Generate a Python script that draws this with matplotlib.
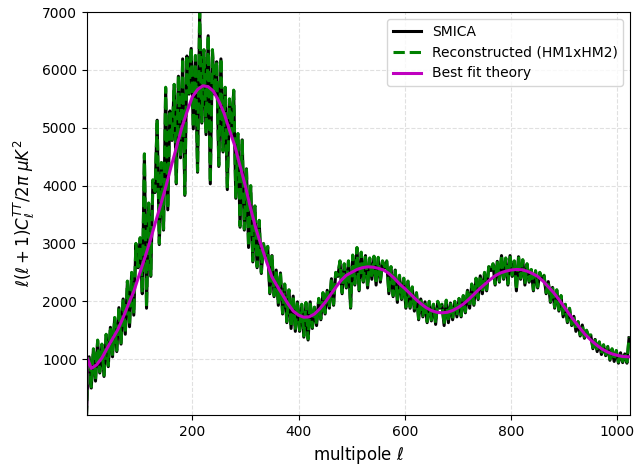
import numpy as np
import matplotlib
matplotlib.use("Agg")
import matplotlib.pyplot as plt

# multipoles of the measured spectra (ell=1 entry is the zero padding)
ell_data = [1] + list(range(2, 1023, 4))

# Reconstructed (HM1xHM2) spectrum, D_ell in uK^2
dl_recon = [0,
    300, 1050, 520, 1180, 640, 1330, 780, 1260, 720, 1430,
    890, 1560, 1060, 1720, 1150, 1900, 1280, 2050, 1450, 2350,
    1580, 2500, 1780, 3000, 2600, 3100, 2150, 4550, 1900, 3700,
    2450, 4100, 3900, 5150, 3000, 4400, 3250, 5700, 3600, 5300,
    4800, 5750, 4050, 5900, 4500, 6200, 3850, 6250, 5600, 6380,
    5000, 6250, 4250, 7000, 5100, 6350, 4900, 6600, 4050, 6350,
    5600, 6150, 4350, 6200, 4600, 5700, 3950, 5500, 4900, 5650,
    3800, 4900, 3300, 4800, 3250, 4300, 2950, 4000, 2700, 3650,
    2600, 3400, 2500, 3000, 2800, 2950, 2150, 2800, 2100, 2550,
    1950, 2500, 1800, 2300, 1650, 2200, 1550, 2100, 1500, 2000,
    1500, 1950, 1400, 1980, 1350, 2000, 1550, 1900, 1600, 2050,
    1700, 2150, 1800, 2200, 1900, 2400, 1950, 2500, 2450, 2700,
    2150, 2650, 2250, 2700, 1900, 2800, 2300, 2930, 2200, 2850,
    2350, 2800, 2250, 2750, 2400, 2780, 2300, 2760, 2350, 2700,
    2600, 2700, 2150, 2600, 2100, 2550, 2000, 2450, 2050, 2400,
    1900, 2350, 1900, 2250, 1850, 2150, 1700, 2050, 1750, 2000,
    1650, 2000, 1680, 1950, 1620, 2000, 1900, 1950, 1600, 2020,
    1650, 1980, 1700, 2000, 1750, 2050, 1750, 2100, 1820, 2200,
    1900, 2300, 1950, 2400, 2050, 2450, 2150, 2500, 2200, 2600,
    2550, 2650, 2300, 2700, 2350, 2800, 2400, 2750, 2300, 2800,
    2450, 2700, 2200, 2780, 2400, 2720, 2300, 2650, 2350, 2550,
    2200, 2530, 2250, 2500, 2400, 2450, 2150, 2350, 2000, 2250,
    1900, 2200, 1850, 2100, 1750, 1950, 1650, 1880, 1600, 1750,
    1500, 1650, 1420, 1600, 1380, 1500, 1400, 1420, 1200, 1350,
    1150, 1300, 1100, 1250, 1080, 1220, 1000, 1180, 980, 1150,
    950, 1120, 960, 1100, 950, 1380]

# SMICA spectrum, nearly on top of the reconstruction
dl_smica = [0,
    290, 1040, 500, 1170, 620, 1320, 760, 1250, 700, 1420,
    870, 1550, 1040, 1710, 1130, 1890, 1260, 2040, 1430, 2340,
    1560, 2490, 1760, 2990, 2580, 3090, 2130, 4530, 1880, 3690,
    2430, 4090, 3880, 5130, 2980, 4390, 3230, 5680, 3580, 5290,
    4780, 5740, 4030, 5890, 4480, 6190, 3830, 6240, 5580, 6370,
    4980, 6240, 4230, 6980, 5080, 6340, 4880, 6590, 4030, 6340,
    5580, 6140, 4330, 6190, 4580, 5690, 3930, 5490, 4880, 5640,
    3780, 4890, 3280, 4790, 3230, 4290, 2930, 3990, 2680, 3640,
    2580, 3390, 2480, 2990, 2780, 2940, 2130, 2790, 2080, 2540,
    1930, 2490, 1780, 2290, 1630, 2190, 1530, 2090, 1480, 1990,
    1480, 1940, 1380, 1970, 1330, 1990, 1530, 1890, 1580, 2040,
    1680, 2140, 1780, 2190, 1880, 2390, 1930, 2490, 2430, 2690,
    2130, 2640, 2230, 2690, 1880, 2790, 2280, 2920, 2180, 2840,
    2330, 2790, 2230, 2740, 2380, 2770, 2280, 2750, 2330, 2690,
    2580, 2690, 2130, 2590, 2080, 2540, 1980, 2440, 2030, 2390,
    1880, 2340, 1880, 2240, 1830, 2140, 1680, 2040, 1730, 1990,
    1630, 1990, 1660, 1940, 1600, 1990, 1880, 1940, 1580, 2010,
    1630, 1970, 1680, 1990, 1730, 2040, 1730, 2090, 1800, 2190,
    1880, 2290, 1930, 2390, 2030, 2440, 2130, 2490, 2180, 2590,
    2530, 2640, 2280, 2690, 2330, 2790, 2380, 2740, 2280, 2790,
    2430, 2690, 2180, 2770, 2380, 2710, 2280, 2640, 2330, 2540,
    2180, 2520, 2230, 2490, 2380, 2440, 2130, 2340, 1980, 2240,
    1880, 2190, 1830, 2090, 1730, 1940, 1630, 1870, 1580, 1740,
    1480, 1640, 1400, 1590, 1360, 1490, 1380, 1410, 1180, 1340,
    1130, 1290, 1080, 1240, 1060, 1210, 980, 1170, 960, 1140,
    930, 1110, 940, 1090, 930, 1370]

# best fit theory
ell_th = [1, 2, 10, 20, 30, 40, 50, 60, 70, 80, 90, 100, 110, 120, 130, 140,
          150, 160, 170, 180, 190, 200, 210, 220, 230, 240, 250, 260, 270,
          280, 290, 300, 310, 320, 330, 340, 350, 360, 370, 380, 390, 400,
          410, 420, 430, 440, 450, 460, 470, 480, 490, 500, 510, 520, 530,
          540, 550, 560, 570, 580, 590, 600, 610, 620, 630, 640, 650, 660,
          670, 680, 690, 700, 710, 720, 730, 740, 750, 760, 770, 780, 790,
          800, 810, 820, 830, 840, 850, 860, 870, 880, 890, 900, 910, 920,
          930, 940, 950, 960, 970, 980, 990, 1000, 1010, 1020, 1024]
dl_th = [0, 1030, 840, 900, 1020, 1190, 1350, 1510, 1720, 1950, 2170, 2450,
         2730, 3020, 3340, 3650, 3970, 4320, 4650, 4990, 5270, 5530, 5660,
         5725, 5710, 5630, 5460, 5250, 4960, 4690, 4340, 3990, 3600, 3250,
         2960, 2680, 2420, 2260, 2110, 1960, 1830, 1760, 1725, 1730, 1780,
         1870, 1980, 2110, 2240, 2360, 2450, 2500, 2550, 2580, 2595, 2590,
         2570, 2540, 2480, 2400, 2300, 2220, 2130, 2040, 1960, 1890, 1840,
         1810, 1800, 1810, 1840, 1890, 1950, 2030, 2120, 2210, 2290, 2370,
         2440, 2490, 2520, 2540, 2550, 2545, 2520, 2480, 2430, 2350, 2250,
         2150, 2030, 1900, 1770, 1650, 1530, 1420, 1330, 1250, 1180, 1130,
         1090, 1065, 1045, 1040, 1040]

fig = plt.figure(figsize=(6.37, 4.73), dpi=100)
ax = fig.add_axes([0.1366, 0.1226, 0.8526, 0.852])

ax.plot(ell_data, dl_smica, color='k', lw=2.2, label='SMICA')
ax.plot(ell_data, dl_recon, color='g', ls='--', lw=2.2, label='Reconstructed (HM1xHM2)')
ax.plot(ell_th, dl_th, color='m', lw=2.2, label='Best fit theory')

ax.set_xlim(2, 1024)
ax.set_ylim(34, 7000)
ax.grid(ls='--', color='0.88', lw=0.8)
ax.set_xlabel(r'multipole $\ell$', fontsize=12)
ax.set_ylabel(r'$\ell(\ell+1)C_\ell^{TT}/2\pi\ \mu K^2$', fontsize=12)
ax.tick_params(labelsize=10)
ax.legend(loc='upper right', fontsize=10)

plt.savefig('out.png', dpi=100)
